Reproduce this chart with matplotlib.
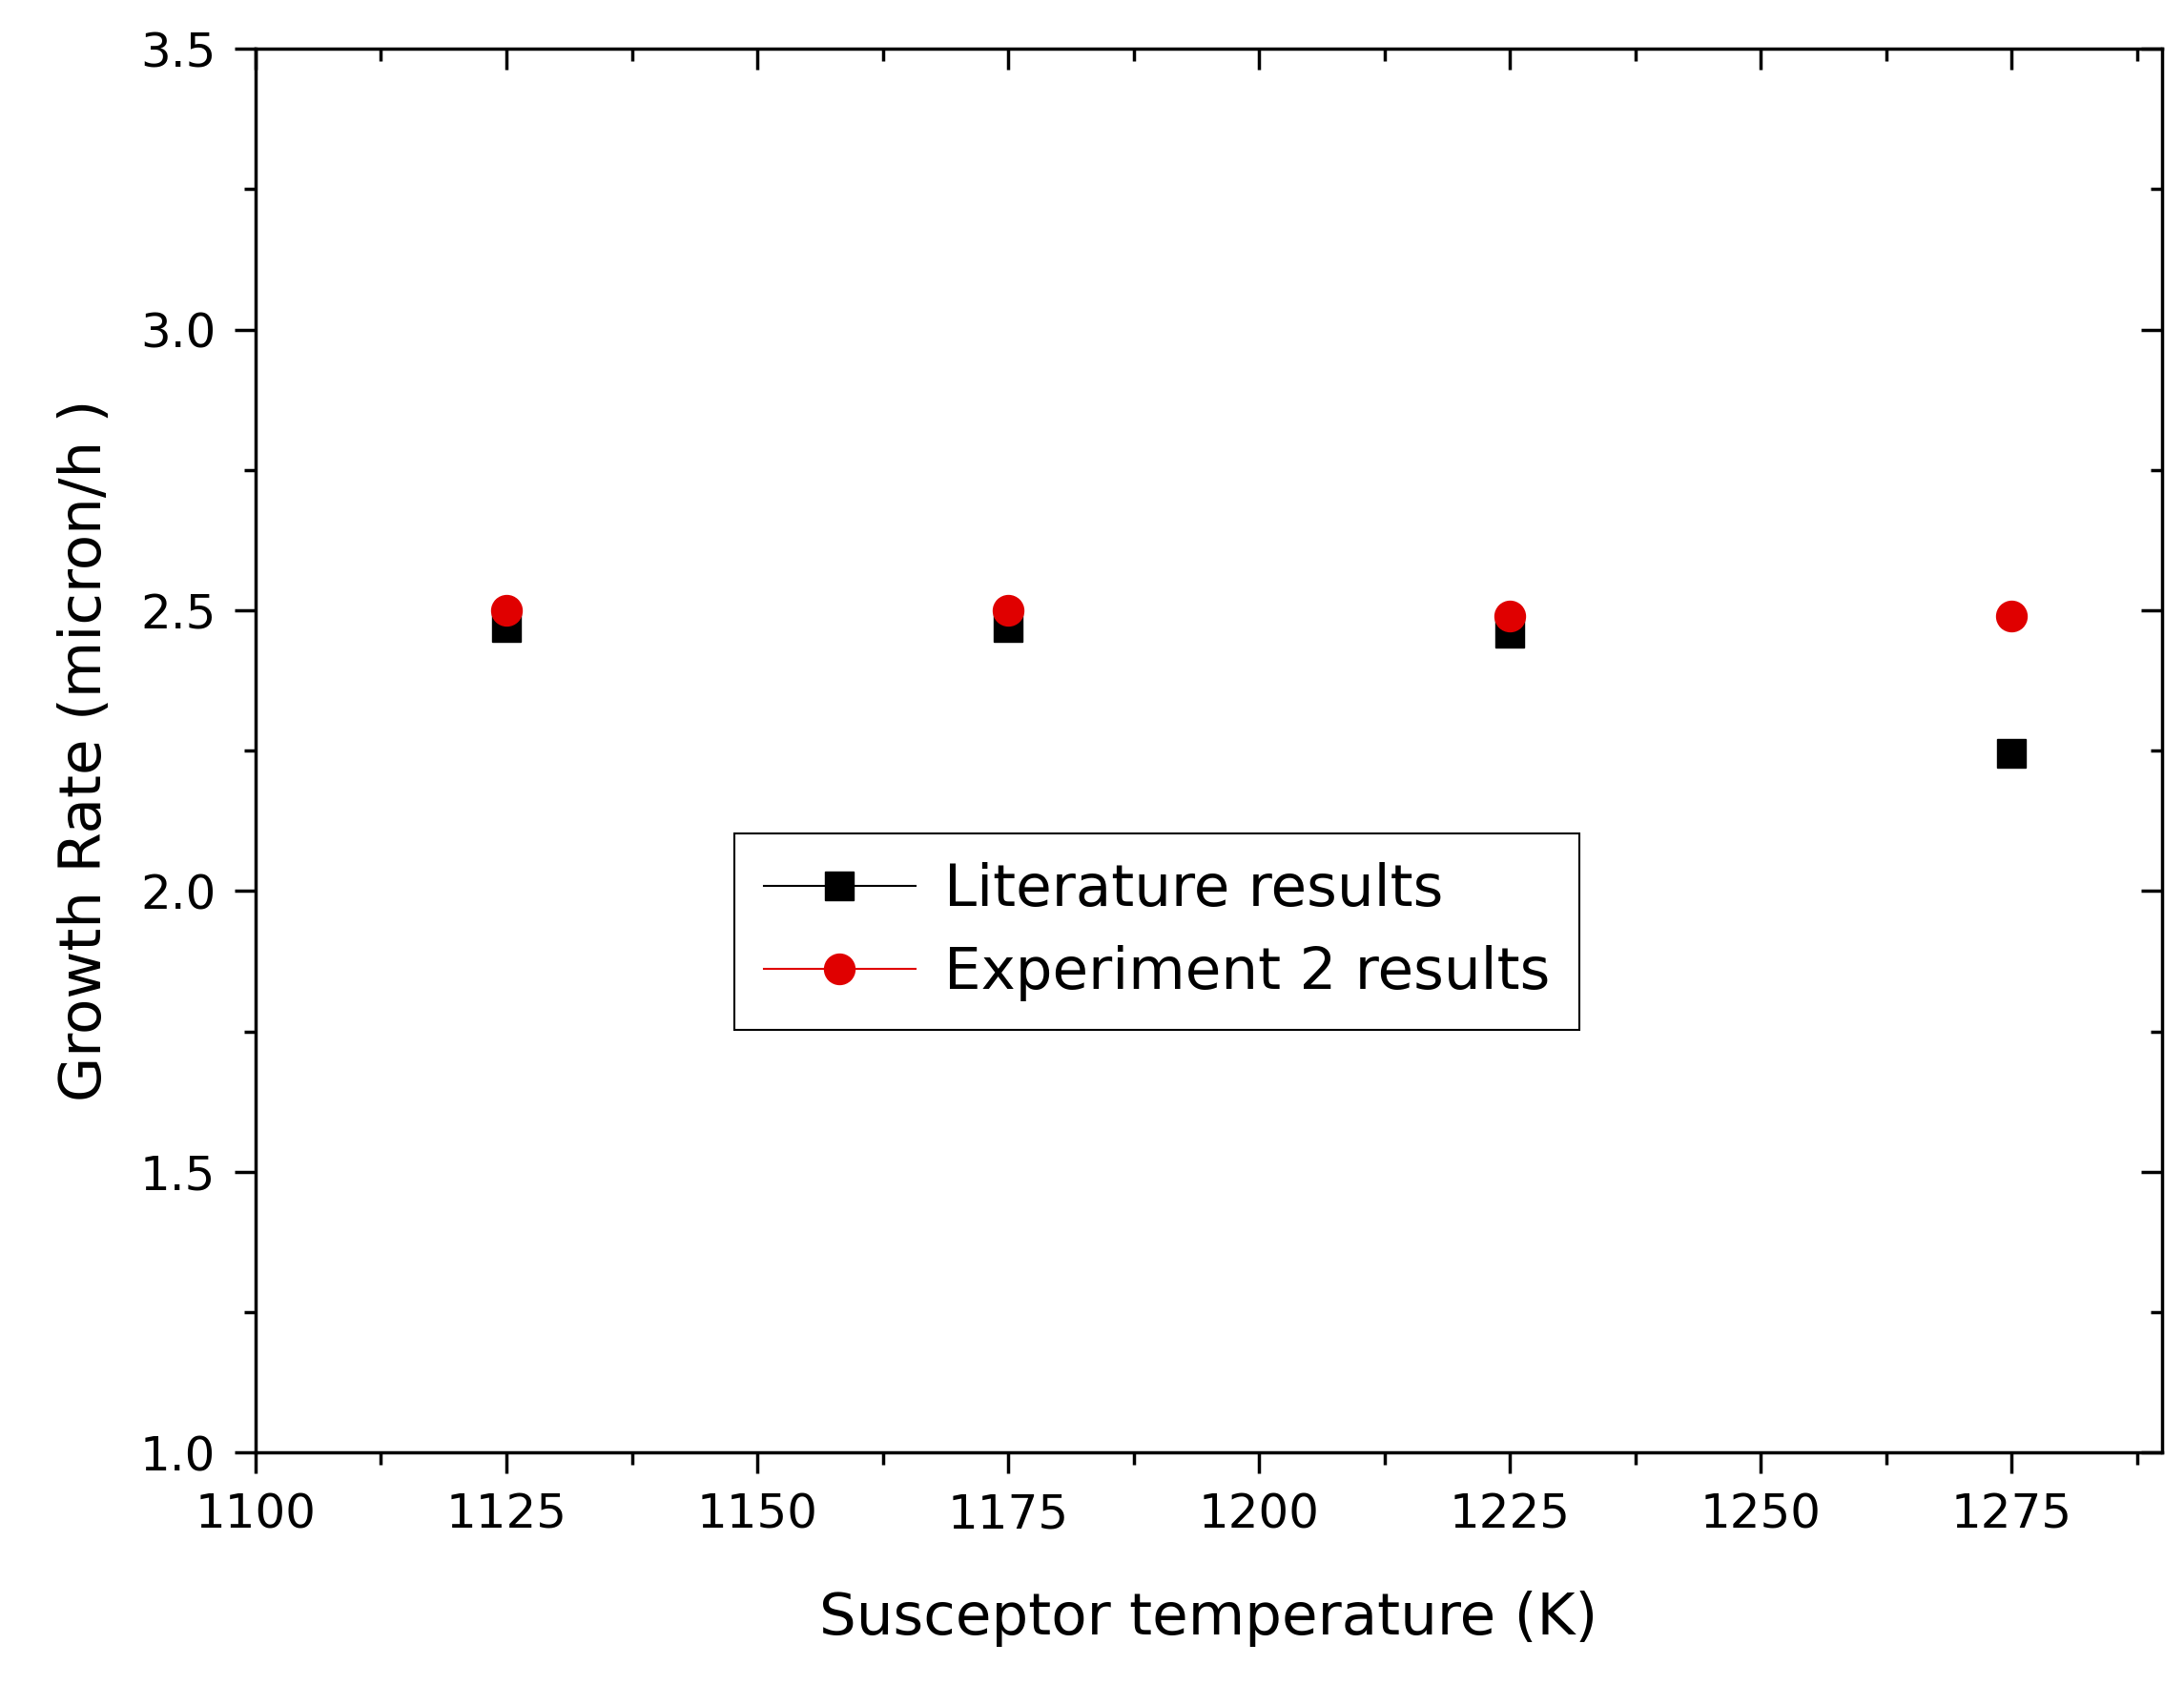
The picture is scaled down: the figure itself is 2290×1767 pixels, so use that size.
import matplotlib
matplotlib.use("Agg")
import matplotlib.pyplot as plt
from matplotlib.ticker import MultipleLocator
from matplotlib.lines import Line2D

temps = [1125, 1175, 1225, 1275]
literature = [2.47, 2.47, 2.46, 2.245]
experiment2 = [2.50, 2.50, 2.49, 2.49]

plt.rcParams['font.family'] = ['DejaVu Sans']
fig = plt.figure(figsize=(22.9, 17.67), dpi=100)
ax = fig.add_axes([0.117, 0.138, 0.873, 0.833])

ax.plot(temps, literature, 's', color='black', markersize=21, linestyle='none')
ax.plot(temps, experiment2, 'o', color='#e00000', markersize=23, linestyle='none')

ax.set_xlim(1100, 1290)
ax.set_ylim(1.0, 3.5)
ax.xaxis.set_major_locator(MultipleLocator(25))
ax.xaxis.set_minor_locator(MultipleLocator(12.5))
ax.yaxis.set_major_locator(MultipleLocator(0.5))
ax.yaxis.set_minor_locator(MultipleLocator(0.25))
ax.tick_params(which='both', direction='out', width=2.5, labelsize=36, pad=14)
ax.tick_params(which='major', length=16)
ax.tick_params(which='minor', length=9)
for s in ax.spines.values():
    s.set_linewidth(2.5)

sx = ax.secondary_xaxis('top')
sx.xaxis.set_major_locator(MultipleLocator(25))
sx.xaxis.set_minor_locator(MultipleLocator(12.5))
sx.tick_params(which='both', direction='in', width=2.5, labeltop=False)
sx.tick_params(which='major', length=16)
sx.tick_params(which='minor', length=9)
sy = ax.secondary_yaxis('right')
sy.yaxis.set_major_locator(MultipleLocator(0.5))
sy.yaxis.set_minor_locator(MultipleLocator(0.25))
sy.tick_params(which='both', direction='in', width=2.5, labelright=False)
sy.tick_params(which='major', length=16)
sy.tick_params(which='minor', length=9)

ax.set_xlabel('Susceptor temperature (K)', fontsize=44, labelpad=40)
ax.set_ylabel('Growth Rate (micron/h )', fontsize=44, labelpad=20)

h = [Line2D([0], [0], color='black', lw=1.5, marker='s', markersize=21),
     Line2D([0], [0], color='#e00000', lw=1.5, marker='o', markersize=23)]
leg = ax.legend(h, ['Literature results', 'Experiment 2 results'], loc='lower left',
                bbox_to_anchor=(0.236, 0.28), fontsize=44, fancybox=False,
                edgecolor='black', framealpha=1, handlelength=2.6, borderpad=0.5,
                labelspacing=0.45, handletextpad=0.5)
leg.get_frame().set_linewidth(1.5)

fig.savefig('out.png', dpi=100)
